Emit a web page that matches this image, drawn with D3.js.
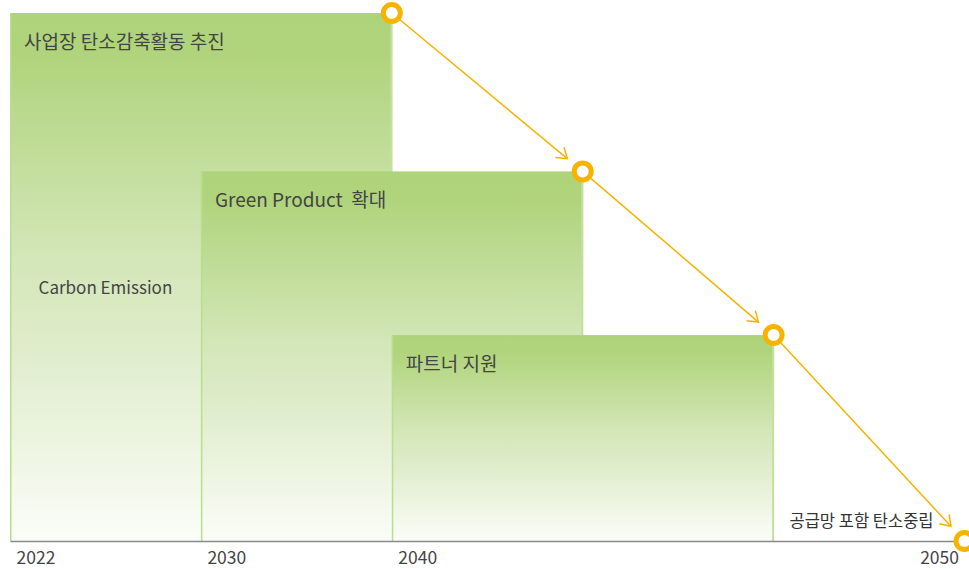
<!DOCTYPE html>
<html><head><meta charset="utf-8">
<script src="https://cdn.jsdelivr.net/npm/d3@7"></script>
<style>
html,body{margin:0;padding:0;background:#fff;}
svg{display:block;font-family:"Noto Sans CJK KR","Noto Sans",sans-serif;}
text{white-space:pre;}
</style></head>
<body><svg id="chart" width="969" height="569"></svg>
<script>
// ---- data ----
const activities = ["사업장 탄소감축활동 추진", "Green Product  확대", "파트너 지원"];
const activityStart = [0, 1, 2];
const activityEnd = [2, 3, 4];
const activityLevel = [100, 70, 39];
const milestoneStage = [2, 3, 4, 5];
const milestoneLevel = [100, 70, 39, 0];
const tickStage = [0, 1, 2, 5];
const tickLabels = ["2022", "2030", "2040", "2050"];
const sideLabel = "Carbon Emission";
const goalLabel = "공급망 포함 탄소중립";

const svg = d3.select("#chart");
const x = d3.scaleLinear().domain([0, 5]).range([10, 964.5]);
const y = d3.scaleLinear().domain([0, 100]).range([541, 13]);

const defs = svg.append("defs");
const grad = defs.append("linearGradient").attr("id", "g").attr("x1", 0).attr("y1", 0).attr("x2", 0).attr("y2", 1);
[[0, "#AED47A"], [0.08, "#B0D47C"], [0.45, "#D2E6B6"], [0.65, "#E0EDCD"], [1, "#FBFDF8"]]
  .forEach(([o, c]) => grad.append("stop").attr("offset", o).attr("stop-color", c));

const acts = activities.map((t, i) => ({t, s: activityStart[i], e: activityEnd[i], v: activityLevel[i]}));

const g = svg.append("g");
acts.forEach(d => {
  const x0 = x(d.s), x1 = x(d.e), y0 = y(d.v), y1 = y(0);
  g.append("rect").attr("x", x0).attr("y", y0).attr("width", x1 - x0 + 0.5).attr("height", y1 - y0)
    .attr("fill", "url(#g)");
  g.append("line").attr("x1", x0 + 0.75).attr("x2", x0 + 0.75).attr("y1", y0).attr("y2", y1)
    .attr("stroke", "#B9DE8C").attr("stroke-width", 1.5);
  g.append("line").attr("x1", x1 - 0.5).attr("x2", x1 - 0.5).attr("y1", y0).attr("y2", y1)
    .attr("stroke", "#C4E09E").attr("stroke-width", 2);
  g.append("text").attr("x", x0 + 14).attr("y", y0 + 36).text(d.t)
    .attr("font-size", 19).attr("fill", "#444");
});

// side label
svg.append("text").attr("x", (x(0) + x(1)) / 2).attr("y", y(48)).attr("dy", "0.35em")
  .attr("text-anchor", "middle").attr("font-size", 17).attr("fill", "#444").text(sideLabel);

// axis
const axis = d3.axisBottom(x).tickValues(tickStage).tickSize(0)
  .tickFormat((d, i) => tickLabels[i]);
const ax = svg.append("g").attr("transform", `translate(0,${y(0)})`).call(axis);
ax.select(".domain").attr("stroke", "#8a8a8a").attr("stroke-width", 1.5);
ax.selectAll(".tick text").attr("font-size", 17.5).attr("fill", "#444")
  .attr("font-family", "'Noto Sans CJK KR', sans-serif")
  .attr("dy", null).attr("y", 23)
  .attr("text-anchor", (d, i) => i === tickStage.length - 1 ? "end" : "start")
  .attr("dx", (d, i) => i === tickStage.length - 1 ? -6 : 6);

// goal label
svg.append("text").attr("x", x(5) - 31).attr("y", y(0) - 14).attr("text-anchor", "end")
  .attr("font-size", 16.5).attr("fill", "#333").text(goalLabel);

// arrows and milestone circles
const ms = milestoneStage.map((s, i) => ({px: x(s), py: y(milestoneLevel[i])}));
const col = "#F6B400";
const ag = svg.append("g");
for (let i = 0; i < ms.length - 1; i++) {
  const a = ms[i], b = ms[i + 1];
  const dx = b.px - a.px, dy = b.py - a.py, L = Math.hypot(dx, dy);
  const ux = dx / L, uy = dy / L;
  const tx = b.px - ux * 20, ty = b.py - uy * 20;
  ag.append("line").attr("x1", a.px).attr("y1", a.py).attr("x2", tx).attr("y2", ty)
    .attr("stroke", col).attr("stroke-width", 1.5);
  const ang = Math.atan2(uy, ux), hl = 12, ha = 0.6;
  const p1 = [tx - hl * Math.cos(ang - ha), ty - hl * Math.sin(ang - ha)];
  const p2 = [tx - hl * Math.cos(ang + ha), ty - hl * Math.sin(ang + ha)];
  ag.append("path").attr("d", `M${p1}L${tx},${ty}L${p2}`).attr("fill", "none")
    .attr("stroke", col).attr("stroke-width", 1.5);
}
ag.selectAll("circle").data(ms).join("circle")
  .attr("cx", d => d.px).attr("cy", d => d.py).attr("r", 8.5)
  .attr("fill", "#fff").attr("stroke", col).attr("stroke-width", 5);
</script></body></html>
